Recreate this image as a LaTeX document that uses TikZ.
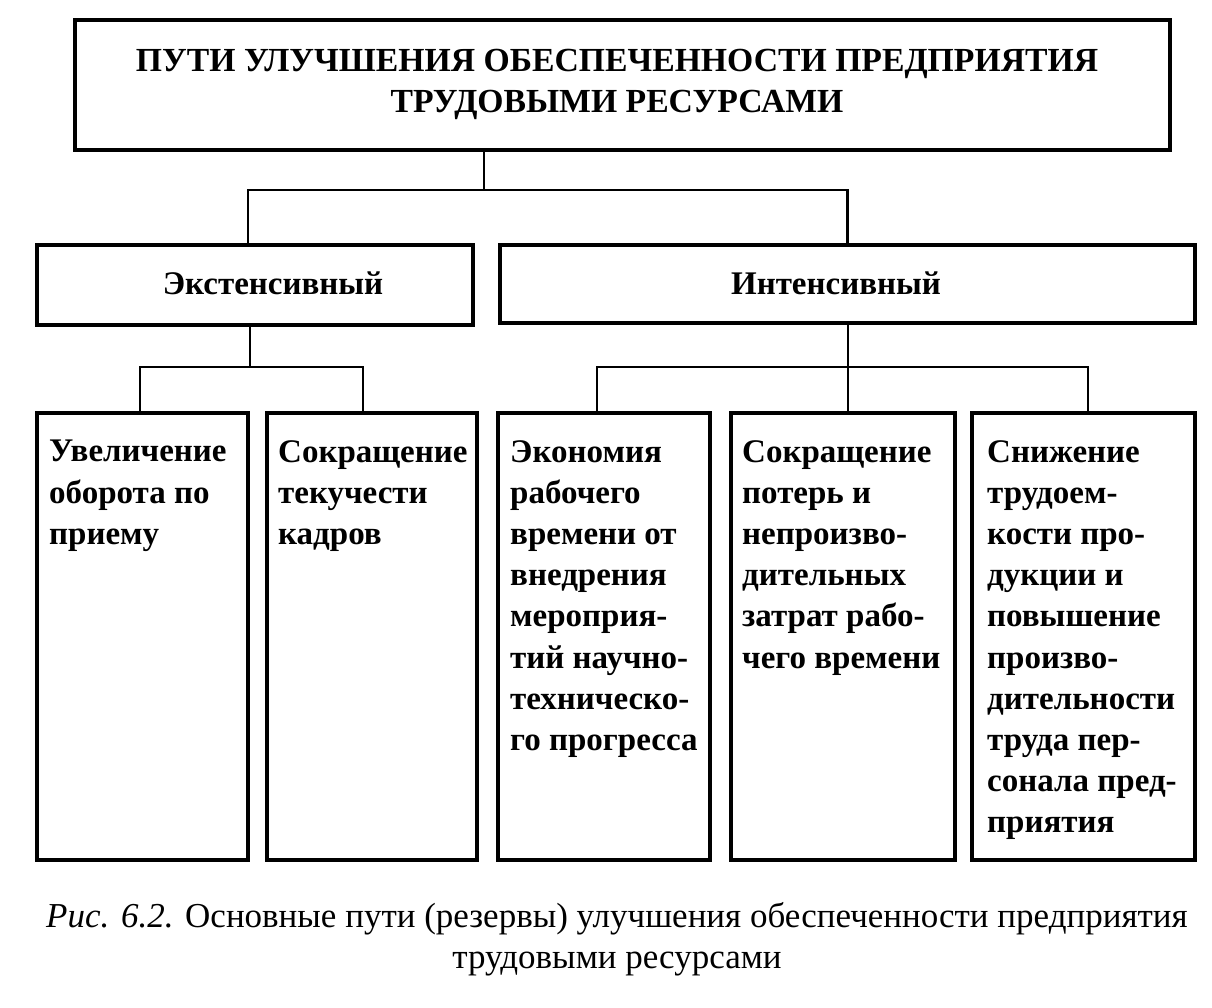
\documentclass[tikz,border=0pt]{standalone}
\usepackage{fontspec}
\setmainfont{Liberation Serif}
\begin{document}
\begin{tikzpicture}[x=1pt,y=-1pt,
  box/.style={draw, line width=3.2pt, inner sep=0pt},
  conn/.style={line width=2.2pt},
  lbl/.style={font=\bfseries\fontsize{33}{41.2}\selectfont, inner sep=0pt, align=left, anchor=north west},
  head/.style={font=\bfseries\fontsize{33}{41}\selectfont, inner sep=0pt, align=center},
  titletxt/.style={font=\bfseries\fontsize{33.7}{41}\selectfont, inner sep=0pt, align=center},
  captxt/.style={font=\fontsize{35}{41}\selectfont, inner sep=0pt, align=center}]
\useasboundingbox (0,0) rectangle (1212,1007);
% boxes
\node[box, minimum width=1095pt, minimum height=130pt] (top) at (622.5,85) {};
\node[titletxt] (toptxt) at (617,84) {ПУТИ УЛУЧШЕНИЯ ОБЕСПЕЧЕННОСТИ ПРЕДПРИЯТИЯ\\ТРУДОВЫМИ РЕСУРСАМИ};
\node[box, minimum width=436pt, minimum height=80pt] (ext) at (255,285) {};
\node[head] (exttxt) at (273,283) {Экстенсивный};
\node[box, minimum width=695pt, minimum height=78pt] (int) at (847.5,284) {};
\node[head] (inttxt) at (836,283) {Интенсивный};
\node[box, minimum width=211pt, minimum height=447pt] (b1) at (142.5,636.5) {};
\node[box, minimum width=210pt, minimum height=447pt] (b2) at (372,636.5) {};
\node[box, minimum width=212pt, minimum height=447pt] (b3) at (604,636.5) {};
\node[box, minimum width=224pt, minimum height=447pt] (b4) at (843,636.5) {};
\node[box, minimum width=223pt, minimum height=447pt] (b5) at (1083.5,636.5) {};
% texts
\node[lbl] (t1) at (49,440) {Увеличение\\оборота по\\приему};
\node[lbl] (t2) at (278,440) {Сокращение\\текучести\\кадров};
\node[lbl] (t3) at (510,440) {Экономия\\рабочего\\времени от\\внедрения\\мероприя-\\тий научно-\\техническо-\\го прогресса};
\node[lbl] (t4) at (742,440) {Сокращение\\потерь и\\непроизво-\\дительных\\затрат рабо-\\чего времени};
\node[lbl] (t5) at (987,440) {Снижение\\трудоем-\\кости про-\\дукции и\\повышение\\произво-\\дительности\\труда пер-\\сонала пред-\\приятия};
% connectors
\coordinate (j0) at (484,190);
\coordinate (jl) at (248,190);
\coordinate (j1) at (250,367);
\coordinate (j2) at (848,367);
\coordinate (ja) at (140,367);
\coordinate (jb) at (363,367);
\coordinate (jc) at (597,367);
\coordinate (jd) at (1088,367);
\draw[conn] (j0 |- top.south) -- (j0);
\draw[conn] (jl |- ext.north) -- (jl) -- (int.north |- j0) -- (int.north);
\draw[conn] (j1 |- ext.south) -- (j1);
\draw[conn] (ja |- b1.north) -- (ja) -- (jb) -- (jb |- b2.north);
\draw[conn] (j2 |- int.south) -- (j2 |- b4.north);
\draw[conn] (jc |- b3.north) -- (jc) -- (jd) -- (jd |- b5.north);
% caption
\node[captxt] (caption) at (617,939) {\textit{Рис. 6.2.} Основные пути (резервы) улучшения обеспеченности предприятия\\трудовыми ресурсами};
\end{tikzpicture}
\end{document}
